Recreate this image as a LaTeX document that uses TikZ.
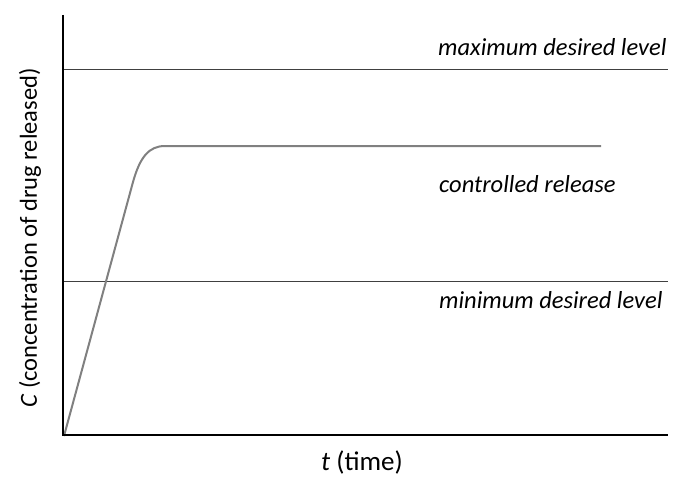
\documentclass[tikz,border=0pt]{standalone}
\usepackage{fontspec}
\setmainfont{Carlito}
\begin{document}
\begin{tikzpicture}[x=1pt,y=-1pt,
  axisline/.style={black,line width=2pt},
  levelline/.style={black!75,line width=1.3pt},
  curveline/.style={black!50,line width=2pt},
  lab/.style={font=\fontsize{24.5}{28}\selectfont\itshape,anchor=base west,inner sep=0pt}]
\useasboundingbox (0,0) rectangle (678,487);
\coordinate (o) at (63,435);
\coordinate (ytop) at (63,15);
\coordinate (xend) at (668,435);
\coordinate (maxl) at (63,69.5);
\coordinate (maxr) at (668,69.5);
\coordinate (minl) at (63,281.5);
\coordinate (minr) at (668,281.5);
\draw[levelline] (maxl) -- (maxr);
\draw[levelline] (minl) -- (minr);
\coordinate (c0) at (64,436);
\coordinate (c1) at (133,182);
\coordinate (c2) at (165,146);
\coordinate (c3) at (601,146);
\draw[curveline,line join=round] (c0) -- (c1) .. controls (140,157) and (149,146) .. (c2) -- (c3);
\draw[axisline] (ytop) -- (o) -- (xend);
\node[lab] (tmax) at (438,56) {maximum desired level};
\node[lab] (tctl) at (439,192) {controlled release};
\node[lab] (tmin) at (439,308) {minimum desired level};
\node[font=\fontsize{24.5}{28}\selectfont,rotate=90,inner sep=0pt] (ylab) at (30,238) {\textit{C} (concentration of drug released)};
\node[font=\fontsize{27}{30}\selectfont,inner sep=0pt] (xlab) at (362,462) {\textit{t} (time)};
\end{tikzpicture}
\end{document}
